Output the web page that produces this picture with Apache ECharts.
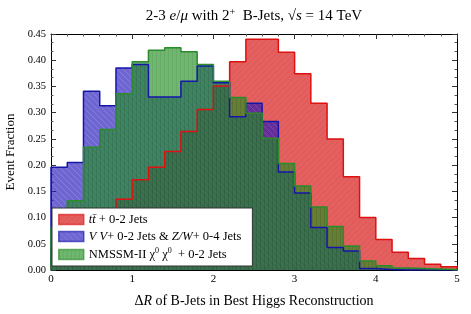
<!DOCTYPE html>
<html><head><meta charset="utf-8">
<script src="https://cdn.jsdelivr.net/npm/echarts@6/dist/echarts.min.js"></script>
<style>html,body{margin:0;padding:0;background:#fff}#c{width:471px;height:314px}</style>
</head><body><div id="c"></div>
<script>
// bin left edges (bin width 0.2), last edge
const binLeft = [0.0,0.2,0.4,0.6,0.8,1.0,1.2,1.4,1.6,1.8,2.0,2.2,2.4,2.6,2.8,3.0,3.2,3.4,3.6,3.8,4.0,4.2,4.4,4.6,4.8];
const binEnd = 5.0;
const ttbar = [0.037,0.062,0.090,0.115,0.135,0.172,0.196,0.226,0.264,0.306,0.351,0.397,0.440,0.440,0.415,0.374,0.318,0.250,0.178,0.100,0.058,0.034,0.022,0.011,0.006];
const vv    = [0.196,0.205,0.341,0.313,0.385,0.392,0.330,0.330,0.360,0.389,0.357,0.292,0.318,0.283,0.187,0.147,0.081,0.043,0.036,0.003,0.001,0.0,0.0,0.0,0.0];
const nmssm = [0.080,0.132,0.234,0.268,0.336,0.397,0.419,0.424,0.416,0.392,0.360,0.329,0.299,0.251,0.203,0.160,0.120,0.083,0.046,0.017,0.008,0.004,0.003,0.002,0.001];
const xTicks = [0,1,2,3,4,5];
const yTicks = [0.00,0.05,0.10,0.15,0.20,0.25,0.30,0.35,0.40,0.45];

function toStep(vals){
  const pts=[[binLeft[0],0]];
  vals.forEach((v,i)=>pts.push([binLeft[i],v]));
  pts.push([binEnd,0]);
  return pts;
}
function pattern(base,line,kind){
  const s = kind==='v'?4:6;
  const c=document.createElement('canvas'); c.width=s; c.height=s;
  const g=c.getContext('2d'); g.fillStyle=base; g.fillRect(0,0,s,s);
  g.strokeStyle=line; g.lineWidth=0.8; g.beginPath();
  if(kind==='v'){ g.moveTo(0.5,0); g.lineTo(0.5,s); }
  else if(kind==='/'){ g.moveTo(-1,s+1); g.lineTo(s+1,-1); g.moveTo(-1,1); g.lineTo(1,-1); g.moveTo(s-1,s+1); g.lineTo(s+1,s-1); }
  else { g.moveTo(-1,-1); g.lineTo(s+1,s+1); g.moveTo(s-1,-1); g.lineTo(s+1,1); g.moveTo(-1,s-1); g.lineTo(1,s+1); }
  g.stroke();
  return {image:c, repeat:'repeat'};
}
const SERIF='Liberation Serif, DejaVu Serif, serif';
const redFill=pattern('rgb(215,10,10)','rgb(185,0,0)','/');
const blueFill=pattern('rgb(35,20,185)','rgb(75,65,210)','\\');
const greenFill=pattern('rgb(35,145,35)','rgb(20,120,20)','v');
const ALPHA=0.65;

const LF=12.5;
const legendRich={i:{fontFamily:SERIF,fontStyle:'italic',fontSize:LF,color:'#000'},
  sup:{fontFamily:SERIF,fontSize:8,color:'#000',padding:[0,0,7,0]}};
const legendText={
  ttbar:'{i|tt\u0304} + 0-2 Jets',
  vv:'{i|V V}+ 0-2 Jets & {i|Z/W}+ 0-4 Jets',
  nmssm:'NMSSM-II χ{sup|0} χ{sup|0}  + 0-2 Jets'
};
const chart=echarts.init(document.getElementById('c'),null,{renderer:'canvas'});
const axisCommon={
  axisLine:{show:true,onZero:false,lineStyle:{color:'#000',width:1}},
  axisTick:{show:true,inside:true,length:5,lineStyle:{color:'#333'}},
  minorTick:{show:true,length:2.5,lineStyle:{color:'#555'}},
  splitLine:{show:false}
};
chart.setOption({
  animation:false,
  backgroundColor:'#fff',
  grid:{left:51,right:14,top:34,bottom:44,containLabel:false,outerBoundsMode:'none'},
  graphic:[{type:'text',x:254,y:16,z:100,style:{
    text:'2-3 {i|e}/{i|μ} with 2{sup|+}  B-Jets, √{i|s} = 14 TeV',
    textAlign:'center',textVerticalAlign:'middle',
    font:'15px '+SERIF,fill:'#000',
    rich:{i:{fontFamily:SERIF,fontStyle:'italic',fontSize:15,fill:'#000'},
          sup:{fontFamily:SERIF,fontSize:10,fill:'#000',padding:[0,0,8,0]}}
  }}],
  legend:{
    orient:'vertical',left:52,top:208,z:20,zlevel:0,
    backgroundColor:'#fff',borderColor:'#333',borderWidth:1,borderRadius:0,
    padding:[5,11,5,6],itemGap:4,itemWidth:25,itemHeight:10,
    icon:'rect',
    textStyle:{fontFamily:SERIF,fontSize:LF,color:'#000',rich:legendRich},
    formatter:n=>legendText[n],
    data:[
      {name:'ttbar',itemStyle:{color:redFill,opacity:ALPHA,borderColor:'#dd1111',borderWidth:1.5}},
      {name:'vv',itemStyle:{color:blueFill,opacity:ALPHA,borderColor:'#1515aa',borderWidth:1.5}},
      {name:'nmssm',itemStyle:{color:greenFill,opacity:ALPHA,borderColor:'#2a8c2a',borderWidth:1.5}}
    ]
  },
  xAxis:[
    Object.assign({type:'value',min:xTicks[0],max:xTicks[xTicks.length-1],interval:1,position:'bottom',
      axisLabel:{fontFamily:SERIF,fontSize:11,color:'#000',margin:4},
      name:'Δ{i|R} of B-Jets in Best Higgs Reconstruction',nameLocation:'middle',nameGap:24,
      nameTextStyle:{fontFamily:SERIF,fontSize:14,color:'#000',rich:{i:{fontFamily:SERIF,fontStyle:'italic',fontSize:14,color:'#000'}}}
    },axisCommon,{minorTick:Object.assign({},axisCommon.minorTick,{splitNumber:5})}),
    Object.assign({type:'value',min:xTicks[0],max:xTicks[xTicks.length-1],interval:1,position:'top',axisLabel:{show:false}},
      axisCommon,{minorTick:Object.assign({},axisCommon.minorTick,{splitNumber:5})})
  ],
  yAxis:[
    Object.assign({type:'value',min:yTicks[0],max:yTicks[yTicks.length-1],interval:0.05,position:'left',
      axisLabel:{fontFamily:SERIF,fontSize:10.5,color:'#000',margin:5,formatter:v=>v.toFixed(2)},
      name:'Event Fraction',nameLocation:'middle',nameGap:31,nameRotate:90,
      nameTextStyle:{fontFamily:SERIF,fontSize:13,color:'#000'}
    },axisCommon,{minorTick:Object.assign({},axisCommon.minorTick,{splitNumber:3})}),
    Object.assign({type:'value',min:yTicks[0],max:yTicks[yTicks.length-1],interval:0.05,position:'right',axisLabel:{show:false}},
      axisCommon,{minorTick:Object.assign({},axisCommon.minorTick,{splitNumber:3})})
  ],
  series:[
    {type:'line',name:'ttbar',data:toStep(ttbar),step:'end',symbol:'none',z:2,
      itemStyle:{color:'#e06060'},lineStyle:{color:'#dd1111',width:1.5},
      areaStyle:{color:redFill,opacity:ALPHA}},
    {type:'line',name:'vv',data:toStep(vv),step:'end',symbol:'none',z:2,
      itemStyle:{color:'#6c5fd0'},lineStyle:{color:'#1515aa',width:1.5},
      areaStyle:{color:blueFill,opacity:ALPHA}},
    {type:'line',name:'nmssm',data:toStep(nmssm),step:'end',symbol:'none',z:2,
      itemStyle:{color:'#6cb86c'},lineStyle:{color:'#2a8c2a',width:1.5},
      areaStyle:{color:greenFill,opacity:ALPHA}}
  ]
});
</script></body></html>
